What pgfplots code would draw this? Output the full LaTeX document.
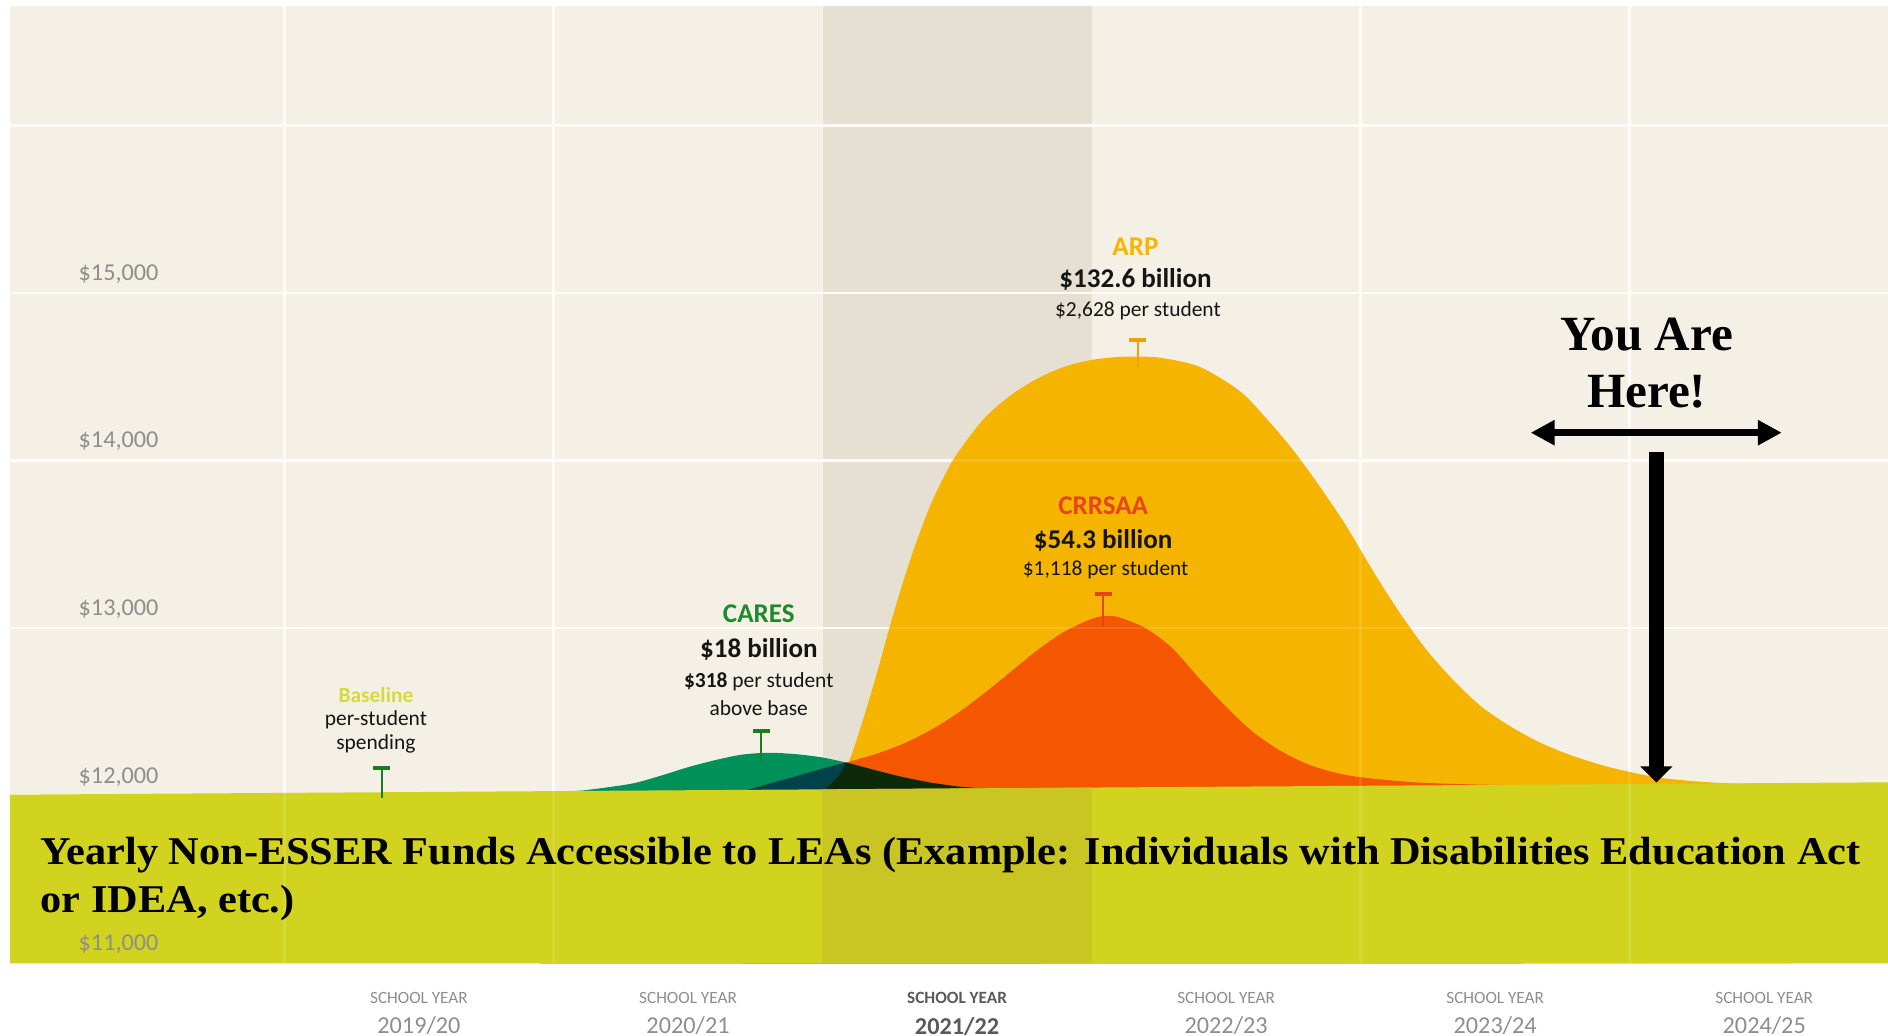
\documentclass[border=0pt]{standalone}
\usepackage{pgfplots}
\pgfplotsset{compat=1.18}
\usetikzlibrary{arrows.meta}
\usepackage{fontspec}
\setmainfont{Carlito}
\newfontfamily\libserif{Liberation Serif}
\definecolor{beige}{HTML}{F4F0E6}
\definecolor{colshade}{HTML}{E6E0D3}
\definecolor{basegreen}{HTML}{D1D31E}
\definecolor{basecol}{HTML}{C9C623}
\definecolor{arp}{HTML}{F5B400}
\definecolor{crr}{HTML}{F55600}
\definecolor{cares}{HTML}{00905A}
\definecolor{darkteal}{HTML}{00424A}
\definecolor{darkblk}{HTML}{0C2A0A}
\definecolor{tickgray}{HTML}{8E8E8E}
\definecolor{tickdark}{HTML}{5A5A5A}
\definecolor{tgreen}{HTML}{1E7A1E}
\definecolor{caresg}{HTML}{1F8A2B}
\definecolor{basel}{HTML}{D5DA3A}
\definecolor{arptxt}{HTML}{F7B500}
\definecolor{crrtxt}{HTML}{E5461A}
\definecolor{tarp}{HTML}{F2A000}
\definecolor{tcrr}{HTML}{E8441A}
\definecolor{txt}{HTML}{151515}
\definecolor{gridw}{HTML}{FCFBF8}
\newcommand\lb{\fontsize{7.7}{9}\selectfont\bfseries}
\newcommand\ls{\fontsize{6.1}{7}\selectfont}
\newcommand\sy{\fontsize{4.9}{8.6}\selectfont SCHOOL YEAR}
\begin{document}
\begin{tikzpicture}
\fill[white] (-0.10cm,-0.717cm) rectangle (18.78cm,9.633cm);
\begin{axis}[
  at={(0,0)}, anchor=south west, scale only axis,
  width=18.78cm, height=9.57cm,
  xmin=-0.02, xmax=6.96, ymin=11000, ymax=16710,
  axis line style={draw=none},
  major tick length=0pt,
  scaled y ticks=false, scaled x ticks=false,
  axis background/.style={fill=beige},
  axis on top,
  xtick={1.5,2.5,3.5,4.5,5.5,6.5},
  xticklabels={
    {{\sy}\\2019/20},
    {{\sy}\\2020/21},
    {{\color{tickdark}\bfseries\sy}\\{\color{tickdark}\bfseries 2021/22}},
    {{\sy}\\2022/23},
    {{\sy}\\2023/24},
    {{\sy}\\2024/25}},
  xticklabel style={font=\fontsize{6.9}{8.6}\selectfont, text=tickgray, align=center, anchor=north, inner sep=0pt, yshift=-0.285cm},
  ytick={11000,12000,13000,14000,15000},
  yticklabels={{\$11,000},{\$12,000},{\$13,000},{\$14,000},{\$15,000}},
  yticklabel style={font=\fontsize{6.9}{8}\selectfont, text=tickgray, anchor=west, inner sep=0pt, xshift=0.68cm, yshift=0.19cm},
]
% shaded current-year column
\addplot[fill=colshade, draw=none, forget plot] coordinates {(3,11000) (3,16710) (4,16710) (4,11000)};
% gridlines
\addplot[gridw, line width=0.7pt, forget plot] coordinates {(-0.02,12000) (6.96,12000)};
\addplot[gridw, line width=0.7pt, forget plot] coordinates {(-0.02,13000) (6.96,13000)};
\addplot[gridw, line width=0.7pt, forget plot] coordinates {(-0.02,14000) (6.96,14000)};
\addplot[gridw, line width=0.7pt, forget plot] coordinates {(-0.02,15000) (6.96,15000)};
\addplot[gridw, line width=0.7pt, forget plot] coordinates {(-0.02,16000) (6.96,16000)};
\addplot[gridw, line width=0.7pt, forget plot] coordinates {(1,11000) (1,16710)};
\addplot[gridw, line width=0.7pt, forget plot] coordinates {(2,11000) (2,16710)};
\addplot[gridw, line width=0.7pt, forget plot] coordinates {(5,11000) (5,16710)};
\addplot[gridw, line width=0.7pt, forget plot] coordinates {(6,11000) (6,16710)};
% ARP
\addplot[fill=arp, draw=none, smooth, tension=0.5] coordinates {
 (2.96,12000) (3.00,12025) (3.04,12085) (3.07,12140) (3.10,12210) (3.15,12450) (3.20,12720)
 (3.25,13010) (3.30,13280) (3.35,13520) (3.40,13730) (3.45,13900) (3.50,14040) (3.60,14250)
 (3.70,14390) (3.80,14490) (3.90,14560) (4.00,14600) (4.10,14618) (4.18,14620) (4.26,14612)
 (4.40,14560) (4.55,14415) (4.65,14250) (4.75,14060) (4.85,13840) (4.95,13600) (5.05,13330)
 (5.15,13080) (5.25,12860) (5.35,12680) (5.45,12530) (5.55,12420) (5.65,12330) (5.75,12260)
 (5.85,12205) (5.95,12160) (6.10,12110) (6.25,12085) (6.40,12072) (6.60,12070)} \closedcycle;
% CRRSAA
\addplot[fill=crr, draw=none, smooth, tension=0.5] coordinates {
 (2.70,12025) (2.80,12071) (2.90,12116) (3.00,12162) (3.10,12203) (3.20,12250) (3.30,12310)
 (3.40,12390) (3.50,12490) (3.60,12610) (3.70,12740) (3.80,12870) (3.90,12980) (4.00,13055)
 (4.05,13072) (4.10,13065) (4.20,13000) (4.30,12880) (4.40,12700) (4.50,12530) (4.60,12380)
 (4.70,12270) (4.80,12190) (4.90,12140) (5.00,12110) (5.20,12080) (5.40,12068) (5.60,12062)} \closedcycle;
% CARES
\addplot[fill=cares, draw=none, smooth, tension=0.5] coordinates {
 (1.95,12015) (2.00,12020) (2.10,12030) (2.20,12050) (2.30,12075) (2.40,12120) (2.50,12170)
 (2.60,12212) (2.70,12245) (2.80,12256) (2.90,12248) (3.00,12228) (3.10,12193) (3.20,12150)
 (3.30,12110) (3.40,12078) (3.50,12055) (3.60,12042) (3.70,12036) (3.80,12030)} \closedcycle;
% overlaps
\addplot[fill=darkteal, draw=none, forget plot] coordinates {
 (2.72,12000) (2.72,12034) (2.80,12071) (2.90,12116) (3.00,12162) (3.085,12198)
 (3.07,12140) (3.04,12085) (3.00,12025) (2.99,12000)};
\addplot[fill=darkblk, draw=none, forget plot] coordinates {
 (2.99,12000) (3.00,12025) (3.04,12085) (3.07,12140) (3.085,12198) (3.10,12193) (3.20,12150)
 (3.30,12110) (3.40,12078) (3.50,12055) (3.60,12042) (3.70,12036) (3.80,12030) (3.80,12000)};
% baseline band
\addplot[fill=basegreen, draw=none] coordinates {(-0.02,11000) (-0.02,12006) (6.96,12080) (6.96,11000)};
\addplot[fill=basecol, draw=none, forget plot] coordinates {(3,11000) (3,12038) (4,12048) (4,11000)};
% faint gridlines on top
\addplot[white, opacity=0.12, line width=0.7pt, forget plot] coordinates {(-0.02,13000) (6.96,13000)};
\addplot[white, opacity=0.12, line width=0.7pt, forget plot] coordinates {(-0.02,14000) (6.96,14000)};
\addplot[white, opacity=0.12, line width=0.7pt, forget plot] coordinates {(-0.02,15000) (6.96,15000)};
\addplot[white, opacity=0.12, line width=0.7pt, forget plot] coordinates {(1,11000) (1,16710)};
\addplot[white, opacity=0.12, line width=0.7pt, forget plot] coordinates {(2,11000) (2,16710)};
\addplot[white, opacity=0.12, line width=0.7pt, forget plot] coordinates {(5,11000) (5,16710)};
\addplot[white, opacity=0.12, line width=0.7pt, forget plot] coordinates {(6,11000) (6,16710)};
% T markers
\addplot[tgreen, line width=0.7pt, forget plot] coordinates {(1.362,11985) (1.362,12164)};
\addplot[tgreen, line width=1.1pt, forget plot] coordinates {(1.330,12164) (1.394,12164)};
\addplot[tgreen, line width=0.7pt, forget plot] coordinates {(2.772,12207) (2.772,12387)};
\addplot[tgreen, line width=1.1pt, forget plot] coordinates {(2.740,12387) (2.804,12387)};
\addplot[tarp, line width=0.7pt, forget plot] coordinates {(4.172,14556) (4.172,14721)};
\addplot[tarp, line width=1.1pt, forget plot] coordinates {(4.140,14721) (4.204,14721)};
\addplot[tcrr, line width=0.7pt, forget plot] coordinates {(4.043,13011) (4.043,13205)};
\addplot[tcrr, line width=1.1pt, forget plot] coordinates {(4.011,13205) (4.075,13205)};
% annotations
\node[text=basel, font=\ls\bfseries] at (1.340,12602) {Baseline};
\node[text=txt, font=\ls] at (1.340,12451) {per-student};
\node[text=txt, font=\ls] at (1.340,12307) {spending};
\node[text=caresg, font=\lb] at (2.763,13083) {CARES};
\node[text=txt, font=\lb] at (2.763,12875) {\$18 billion};
\node[text=txt, font=\ls] at (2.763,12681) {\textbf{\$318} per student};
\node[text=txt, font=\ls] at (2.763,12523) {above base};
\node[text=arptxt, font=\lb] at (4.163,15274) {ARP};
\node[text=txt, font=\lb] at (4.163,15080) {\$132.6 billion};
\node[text=txt, font=\ls] at (4.172,14894) {\$2,628 per student};
\node[text=crrtxt, font=\lb] at (4.043,13730) {CRRSAA};
\node[text=txt, font=\lb] at (4.043,13522) {\$54.3 billion};
\node[text=txt, font=\ls] at (4.052,13349) {\$1,118 per student};
% bottom text
\node[anchor=base west, inner sep=0pt, font=\libserif\bfseries\fontsize{11.2}{13}\selectfont] at (0.0917,11592) {\scalebox{1.075}[1]{Yearly Non-ESSER Funds Accessible to LEAs (Example: Individuals with Disabilities Education Act}};
\node[anchor=base west, inner sep=0pt, font=\libserif\bfseries\fontsize{11.2}{13}\selectfont] at (0.0917,11305) {\scalebox{1.075}[1]{or IDEA, etc.)}};
% You are here
\node[anchor=base, inner sep=0pt, font=\libserif\bfseries\fontsize{14}{16}\selectfont] at (6.063,14659) {You Are};
\node[anchor=base, inner sep=0pt, font=\libserif\bfseries\fontsize{14}{16}\selectfont] at (6.063,14317) {Here!};
\draw[line width=2.1pt, {Triangle[length=6.8pt,width=6.8pt]}-{Triangle[length=6.8pt,width=6.8pt]}] (axis cs:5.632,14166) -- (axis cs:6.565,14166);
\draw[line width=4.4pt, -{Triangle[length=4.6pt,width=8.9pt]}] (axis cs:6.099,14053) -- (axis cs:6.099,12078);
\end{axis}
\pgfresetboundingbox
\path (-0.10cm,-0.717cm) rectangle (18.78cm,9.633cm);
\end{tikzpicture}
\end{document}
